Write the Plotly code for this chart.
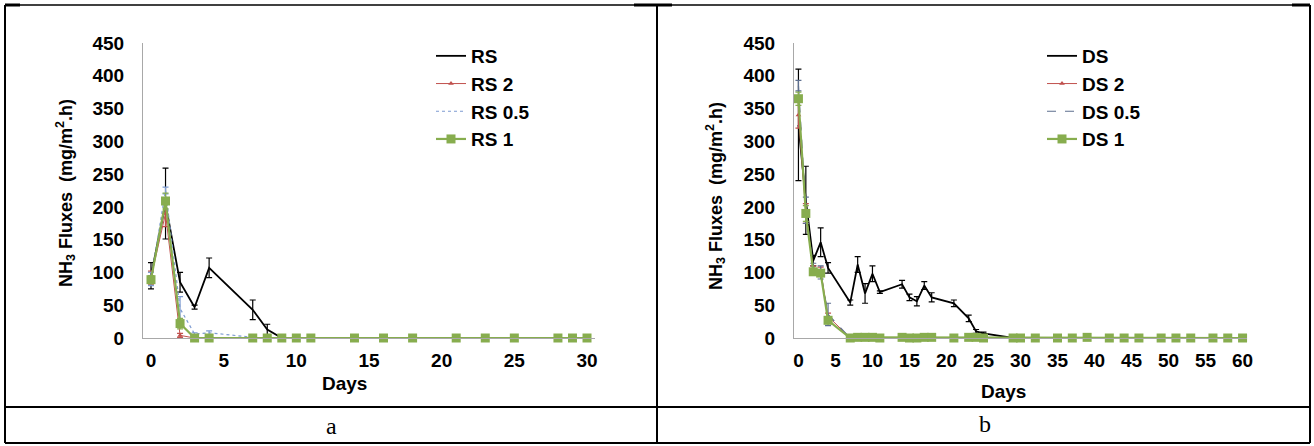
import plotly.graph_objects as go

W, H = 1314, 446

# ---------------- data: panel a (RS) ----------------
days_a = [0, 1, 2, 3, 4, 7, 8, 9, 10, 11, 14, 16, 18, 21, 23, 25, 28, 29, 30]
rs      = [95, 205, 85, 47, 107, 43, 13, 0, 0, 0, 0, 0, 0, 0, 0, 0, 0, 0, 0]
rs_err  = [20, 54, 15, 3, 15, 15, 8, 0, 0, 0, 0, 0, 0, 0, 0, 0, 0, 0, 0]
rs2     = [92, 190, 4, 0, 0, 0, 0, 0, 0, 0, 0, 0, 0, 0, 0, 0, 0, 0, 0]
rs2_err = [10, 20, 3, 0, 0, 0, 0, 0, 0, 0, 0, 0, 0, 0, 0, 0, 0, 0, 0]
rs05    = [90, 225, 45, 6, 8, 1, 0, 0, 0, 0, 0, 0, 0, 0, 0, 0, 0, 0, 0]
rs05_err= [10, 5, 18, 2, 3, 0, 0, 0, 0, 0, 0, 0, 0, 0, 0, 0, 0, 0, 0]
rs1     = [89, 209, 22, 0, 0, 0, 0, 0, 0, 0, 0, 0, 0, 0, 0, 0, 0, 0, 0]
rs1_err = [6, 12, 8, 0, 0, 0, 0, 0, 0, 0, 0, 0, 0, 0, 0, 0, 0, 0, 0]

# ---------------- data: panel b (DS) ----------------
days_b = [0, 1, 2, 3, 4, 7, 8, 9, 10, 11, 14, 15, 16, 17, 18, 21, 23, 24, 25,
          29, 30, 32, 35, 37, 39, 42, 44, 46, 49, 51, 53, 56, 58, 60]
ds      = [325, 210, 118, 146, 107, 54, 112, 68, 98, 70, 82, 62, 56, 80, 62, 53, 30, 10, 7,
           0, 0, 0, 0, 0, 0, 0, 0, 0, 0, 0, 0, 0, 0, 0]
ds_err  = [85, 52, 8, 22, 8, 4, 12, 15, 12, 2, 6, 5, 7, 6, 7, 5, 5, 3, 2,
           0, 0, 0, 0, 0, 0, 0, 0, 0, 0, 0, 0, 0, 0, 0]
ds2     = [340, 190, 105, 103, 33, 0, 0, 0, 0, 0, 0, 0, 0, 0, 0, 0, 0, 0, 0,
           0, 0, 0, 0, 0, 0, 0, 0, 0, 0, 0, 0, 0, 0, 0]
ds2_err = [20, 15, 5, 5, 5, 0, 0, 0, 0, 0, 0, 0, 0, 0, 0, 0, 0, 0, 0,
           0, 0, 0, 0, 0, 0, 0, 0, 0, 0, 0, 0, 0, 0, 0]
ds05    = [385, 195, 108, 100, 36, 0, 0, 0, 0, 0, 0, 0, 0, 0, 0, 0, 0, 0, 0,
           0, 0, 0, 0, 0, 0, 0, 0, 0, 0, 0, 0, 0, 0, 0]
ds05_err= [8, 20, 6, 10, 17, 0, 0, 0, 0, 0, 0, 0, 0, 0, 0, 0, 0, 0, 0,
           0, 0, 0, 0, 0, 0, 0, 0, 0, 0, 0, 0, 0, 0, 0]
ds1     = [365, 190, 101, 99, 27, 0, 1, 1, 1, 0, 1, 0, 0, 1, 1, 0, 1, 1, 0,
           0, 0, 0, 0, 0, 1, 0, 0, 0, 0, 0, 0, 0, 0, 0]
ds1_err = [10, 12, 5, 5, 5, 0, 0, 0, 0, 0, 0, 0, 0, 0, 0, 0, 0, 0, 0,
           0, 0, 0, 0, 0, 0, 0, 0, 0, 0, 0, 0, 0, 0, 0]

y_ticks = [0, 50, 100, 150, 200, 250, 300, 350, 400, 450]
xa_ticks = [0, 5, 10, 15, 20, 25, 30]
xb_ticks = [0, 5, 10, 15, 20, 25, 30, 35, 40, 45, 50, 55, 60]

BLACK = "#000000"
RED = "#c0504d"
BLUE_A = "#7d9bd1"
BLUE_B = "#5d6f8f"
GREEN = "#87ad4e"
FONT = "Liberation Sans, Arial, sans-serif"


def px_x(p):
    return p / W


def px_y(p):
    return 1 - p / H


fig = go.Figure()


def add_series(x, y, err, name, xa, ya, leg, color, dash, width, marker):
    fig.add_trace(go.Scatter(
        x=x, y=y, name=name, xaxis=xa, yaxis=ya, legend=leg,
        mode="lines+markers" if marker else "lines",
        line=dict(color=color, width=width, dash=dash),
        marker=marker if marker else None,
        error_y=dict(type="data", array=err, visible=True, color=color,
                     thickness=1.2, width=3),
        cliponaxis=False,
    ))


for (x, xa, ya, leg, series, blue, bdash) in [
    (days_a, "x", "y", "legend",
     [("RS", rs, rs_err), ("RS 2", rs2, rs2_err), ("RS 0.5", rs05, rs05_err), ("RS 1", rs1, rs1_err)],
     BLUE_A, "dot"),
    (days_b, "x2", "y2", "legend2",
     [("DS", ds, ds_err), ("DS 2", ds2, ds2_err), ("DS 0.5", ds05, ds05_err), ("DS 1", ds1, ds1_err)],
     BLUE_B, "dash"),
]:
    (n0, y0, e0), (n1, y1, e1), (n2, y2, e2), (n3, y3, e3) = series
    add_series(x, y0, e0, n0, xa, ya, leg, BLACK, "solid", 1.8, None)
    add_series(x, y1, e1, n1, xa, ya, leg, RED, "solid", 1.0,
               dict(symbol="triangle-up", size=5, color=RED))
    add_series(x, y2, e2, n2, xa, ya, leg, blue, bdash, 1.2, None)
    add_series(x, y3, e3, n3, xa, ya, leg, GREEN, "solid", 2.2,
               dict(symbol="square", size=9, color=GREEN))

tickfont = dict(family=FONT, size=19, color="black", weight="bold")
axis_common = dict(showgrid=False, zeroline=False, showline=True, linecolor="#a8a8a8",
                   linewidth=1, ticks="", tickfont=tickfont, fixedrange=True,
                   automargin=False)

PA_L, PA_R = 143, 595
PB_L, PB_R = 794, 1247
P_T, P_B = 43, 338

fig.update_layout(
    width=W, height=H,
    margin=dict(l=0, r=0, t=0, b=0, pad=0),
    paper_bgcolor="white", plot_bgcolor="white",
    showlegend=True,
    xaxis=dict(domain=[px_x(PA_L), px_x(PA_R)], anchor="y", range=[-0.55, 30.55],
               tickvals=xa_ticks, ticklabelstandoff=5, **axis_common),
    yaxis=dict(domain=[px_y(P_B), px_y(P_T)], anchor="x", range=[0, 450],
               tickvals=y_ticks, ticklabelstandoff=14, **axis_common),
    xaxis2=dict(domain=[px_x(PB_L), px_x(PB_R)], anchor="y2", range=[-0.6, 60.6],
                tickvals=xb_ticks, ticklabelstandoff=5, **axis_common),
    yaxis2=dict(domain=[px_y(P_B), px_y(P_T)], anchor="x2", range=[0, 450],
                tickvals=y_ticks, ticklabelstandoff=14, **axis_common),
    legend=dict(x=px_x(431), y=px_y(37), xanchor="left", yanchor="top",
                bgcolor="rgba(0,0,0,0)", itemwidth=30,
                font=dict(family=FONT, size=19, color="black", weight="bold")),
    legend2=dict(x=px_x(1042), y=px_y(37), xanchor="left", yanchor="top",
                 bgcolor="rgba(0,0,0,0)", itemwidth=30,
                 font=dict(family=FONT, size=19, color="black", weight="bold")),
)

title_font = dict(family=FONT, size=18, color="black", weight="bold")
ytitle = "NH<sub>3</sub> Fluxes  (mg/m<sup>2</sup>.h)"
annotations = [
    dict(text=ytitle, x=px_x(65), y=px_y(193), xref="paper", yref="paper",
         textangle=-90, showarrow=False, font=title_font, xanchor="center", yanchor="middle"),
    dict(text=ytitle, x=px_x(716), y=px_y(196), xref="paper", yref="paper",
         textangle=-90, showarrow=False, font=title_font, xanchor="center", yanchor="middle"),
    dict(text="Days", x=px_x(344), y=px_y(383), xref="paper", yref="paper",
         showarrow=False, font=dict(family=FONT, size=19, color="black", weight="bold"),
         xanchor="center", yanchor="middle"),
    dict(text="Days", x=px_x(1003), y=px_y(391), xref="paper", yref="paper",
         showarrow=False, font=dict(family=FONT, size=19, color="black", weight="bold"),
         xanchor="center", yanchor="middle"),
    dict(text="a", x=px_x(331), y=px_y(426), xref="paper", yref="paper",
         showarrow=False, font=dict(family="Liberation Serif, Times New Roman, serif", size=24, color="black"),
         xanchor="center", yanchor="middle"),
    dict(text="b", x=px_x(985), y=px_y(424), xref="paper", yref="paper",
         showarrow=False, font=dict(family="Liberation Serif, Times New Roman, serif", size=24, color="black"),
         xanchor="center", yanchor="middle"),
]
fig.update_layout(annotations=annotations)


# table borders
def hline(x0, x1, y, w=2):
    return dict(type="line", xref="paper", yref="paper", x0=px_x(x0), x1=px_x(x1),
                y0=px_y(y), y1=px_y(y), line=dict(color="black", width=w))


def vline(x, y0, y1, w=2):
    return dict(type="line", xref="paper", yref="paper", x0=px_x(x), x1=px_x(x),
                y0=px_y(y0), y1=px_y(y1), line=dict(color="black", width=w))


shapes = [
    hline(5, 1310, 5, 1.5),
    hline(5, 20, 5, 3),
    hline(634, 672, 5, 3),
    hline(1292, 1310, 5, 3),
    hline(5, 1310, 407, 2),
    hline(5, 1310, 443, 2),
    vline(5, 5, 443, 2),
    vline(657, 5, 443, 2),
    vline(1310, 5, 443, 2),
]
fig.update_layout(shapes=shapes)

fig.write_html(
    "out.html",
    config={"displayModeBar": False},
    post_script="document.body.style.margin='0';document.body.style.overflow='hidden';",
)
